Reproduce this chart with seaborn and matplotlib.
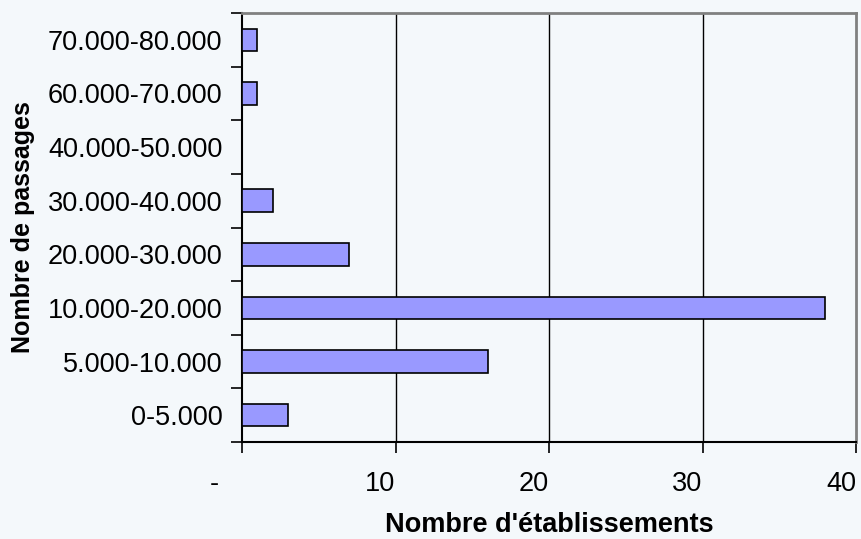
import matplotlib
matplotlib.use("Agg")
import matplotlib.pyplot as plt
import seaborn as sns
import pandas as pd
import numpy as np

categories = ["70.000-80.000", "60.000-70.000", "40.000-50.000", "30.000-40.000",
              "20.000-30.000", "10.000-20.000", "5.000-10.000", "0-5.000"]
values = [1, 1, 0, 2, 7, 38, 16, 3]
xticks = [0, 10, 20, 30, 40]
xtick_labels = ["-   ", "10", "20", "30", "40"]

sns.set_theme(style="white")
plt.rcParams['font.family'] = ['Liberation Sans', 'DejaVu Sans']
plt.rcParams['text.color'] = 'black'
plt.rcParams['axes.labelcolor'] = 'black'
plt.rcParams['xtick.color'] = 'black'
plt.rcParams['ytick.color'] = 'black'

bg = "#F4F8FB"
fig = plt.figure(figsize=(8.61, 5.39), dpi=100, facecolor=bg)
ax_left, ax_right, ax_top, ax_bottom = 242, 856, 13, 442
ax = fig.add_axes([ax_left/861, 1-ax_bottom/539, (ax_right-ax_left)/861, (ax_bottom-ax_top)/539])
ax.set_facecolor(bg)

df = pd.DataFrame({"cat": categories, "val": values})
sns.barplot(data=df, x="val", y="cat", order=categories, orient="h",
            color="#9999FF", saturation=1, width=0.42,
            edgecolor="black", linewidth=1.2, ax=ax, zorder=3)

ax.set_xlim(0, 40)
ax.set_ylim(len(categories) - 0.5, -0.5)

# vertical gridlines
for g in [10, 20, 30]:
    ax.axvline(g, color="black", lw=1.0, zorder=1)

ax.set_xticks(xticks)
ax.set_xticklabels(xtick_labels, fontsize=19.5, ha="right", color="black")
ax.tick_params(axis="x", direction="out", length=8, width=1.2, color="black",
               labelcolor="black", pad=13, bottom=True)

ax.set_yticks(np.arange(len(categories)))
ax.set_yticklabels(categories, fontsize=19.5, color="black")
ax.tick_params(axis="y", which="major", length=0, pad=14, labelcolor="black")
ax.set_yticks(np.arange(len(categories) + 1) - 0.5, minor=True)
ax.tick_params(axis="y", which="minor", direction="out", length=8, width=1.2,
               color="black", left=True)

for s in ["left", "bottom"]:
    ax.spines[s].set_color("black")
    ax.spines[s].set_linewidth(1.5)
for s in ["top", "right"]:
    ax.spines[s].set_color("#808080")
    ax.spines[s].set_linewidth(2.0)
    ax.spines[s].set_visible(True)

ax.set_xlabel("Nombre d'établissements", fontsize=19.5, fontweight="bold",
              labelpad=11, color="black")
ax.set_ylabel("Nombre de passages", fontsize=18, fontweight="bold", color="black",
              va="center")
ax.yaxis.set_label_coords((23 - ax_left) / (ax_right - ax_left), 0.5)

fig.savefig("out.png", dpi=100, facecolor=bg)
